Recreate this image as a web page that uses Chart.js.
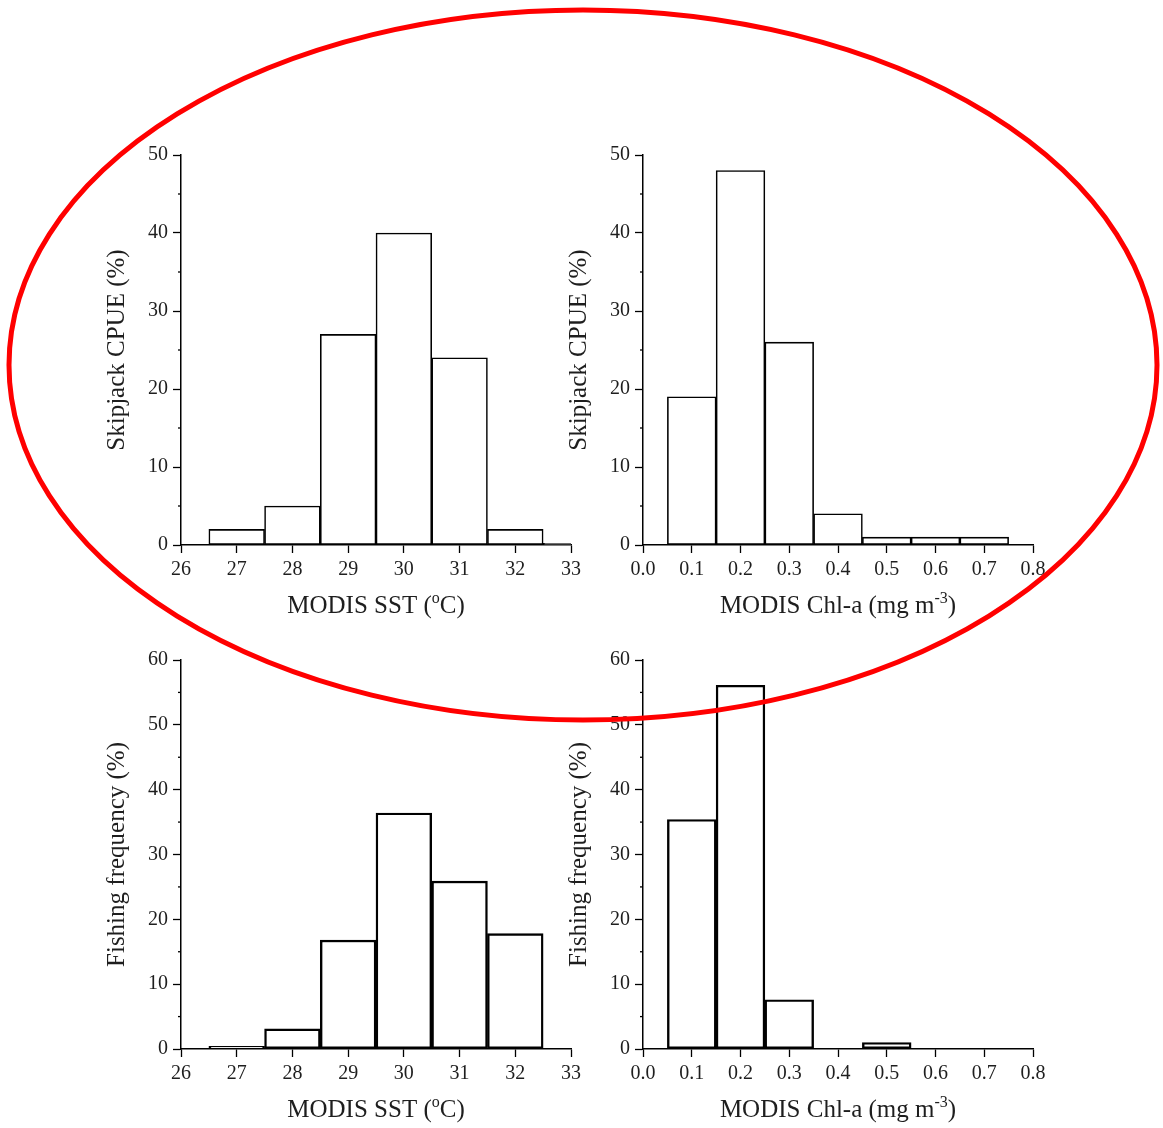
<!DOCTYPE html>
<html>
<head>
<meta charset="utf-8">
<script src="https://cdn.jsdelivr.net/npm/chart.js@4/dist/chart.umd.min.js"></script>
<style>
  html, body { margin:0; padding:0; background:#fff; }
  body { width:1163px; height:1128px; position:relative; overflow:hidden; }
  .pane { position:absolute; }
  #overlay { position:absolute; left:0; top:0; pointer-events:none; z-index:10; }
</style>
</head>
<body>
<div class="pane" id="p1"><canvas id="c1"></canvas></div>
<div class="pane" id="p2"><canvas id="c2"></canvas></div>
<div class="pane" id="p3"><canvas id="c3"></canvas></div>
<div class="pane" id="p4"><canvas id="c4"></canvas></div>
<canvas id="overlay" width="1163" height="1128"></canvas>
<script>
// ---- data ----
const sstBins      = [27, 28, 29, 30, 31, 32, 33];
const sstCpue      = [2, 5, 27, 40, 24, 2, 0.2];
const chlBins      = [0.1, 0.2, 0.3, 0.4, 0.5, 0.6, 0.7];
const chlCpue      = [19, 48, 26, 4, 1, 1, 1];
const sstFreqBins  = [27, 28, 29, 30, 31, 32];
const sstFreq      = [0.4, 3.1, 16.8, 36.4, 25.9, 17.8];
const chlFreqBins  = [0.1, 0.2, 0.3, 0.4, 0.5];
const chlFreq      = [35.4, 56.1, 7.6, null, 1.0];

const sstTicks = [26, 27, 28, 29, 30, 31, 32, 33];
const chlTicks = [0.0, 0.1, 0.2, 0.3, 0.4, 0.5, 0.6, 0.7, 0.8];

const yTitleCpue = 'Skipjack CPUE (%)';
const yTitleFreq = 'Fishing frequency (%)';
const xTitleSst = [{t:'MODIS SST ('}, {t:'o', sup:true}, {t:'C)'}];
const xTitleChl = [{t:'MODIS Chl-a (mg m'}, {t:'-3', sup:true}, {t:')'}];

const FONT = '"Liberation Serif", "Times New Roman", serif';
const TXT = '#1e1e1e';

const titlePlugin = {
  id: 'customTitles',
  afterDraw(chart) {
    const o = chart.options.plugins.customTitles;
    const a = chart.chartArea;
    const ctx = chart.ctx;
    ctx.save();
    ctx.fillStyle = TXT;
    // y title
    ctx.translate(a.left - 64, (a.top + a.bottom) / 2);
    ctx.rotate(-Math.PI / 2);
    ctx.font = '25px ' + FONT;
    ctx.textAlign = 'center';
    ctx.textBaseline = 'middle';
    ctx.fillText(o.y, 0, 0);
    ctx.restore();
    // x title with superscript
    ctx.save();
    ctx.fillStyle = TXT;
    ctx.textBaseline = 'alphabetic';
    ctx.textAlign = 'left';
    const big = '25px ' + FONT, small = '16px ' + FONT;
    let w = 0;
    o.x.forEach(s => { ctx.font = s.sup ? small : big; w += ctx.measureText(s.t).width; });
    let x = (a.left + a.right) / 2 - w / 2;
    const y = a.bottom + 68;
    o.x.forEach(s => {
      ctx.font = s.sup ? small : big;
      ctx.fillText(s.t, x, s.sup ? y - 10 : y);
      x += ctx.measureText(s.t).width;
    });
    ctx.restore();
    // minor y ticks
    const ys = chart.scales.y;
    ctx.save();
    ctx.strokeStyle = '#000';
    ctx.lineWidth = 1.3;
    for (let v = ys.min + o.minor; v < ys.max; v += o.minor * 2) {
      const py = ys.getPixelForValue(v);
      ctx.beginPath();
      ctx.moveTo(a.left - 3, py);
      ctx.lineTo(a.left, py);
      ctx.stroke();
    }
    ctx.restore();
  }
};

function makeChart(id, pane, areaLeft, areaTop, areaH, bins, vals, xTicks, xDec, yMax, yTitle, xTitle, bw) {
  const padTop = 30, padRight = 25, yW = 181, xH = 95;
  const pts = [];
  bins.forEach((b, i) => { if (vals[i] !== null) pts.push({x: b, y: vals[i]}); });
  return new Chart(document.getElementById(id), {
    type: 'bar',
    data: { datasets: [{
      data: pts,
      backgroundColor: '#ffffff',
      borderColor: '#000000',
      borderWidth: bw,
      borderSkipped: false,
      barPercentage: 1.0,
      categoryPercentage: 1.0,
      clip: 0
    }]},
    plugins: [titlePlugin],
    options: {
      responsive: false,
      maintainAspectRatio: false,
      animation: false,
      devicePixelRatio: 1,
      layout: { padding: { top: padTop, right: padRight, left: 0, bottom: 0 } },
      plugins: {
        legend: { display: false },
        tooltip: { enabled: false },
        customTitles: { x: xTitle, y: yTitle, minor: 5 }
      },
      scales: {
        x: {
          type: 'linear',
          min: xTicks[0], max: xTicks[xTicks.length - 1],
          offset: false,
          afterFit(s) { s.height = xH; },
          afterBuildTicks(s) { s.ticks = xTicks.map(v => ({value: v})); },
          grid: { display: true, offset: false, drawOnChartArea: false, drawTicks: true, tickLength: 8, tickColor: '#000', tickWidth: 1.3 },
          border: { display: true, color: '#000', width: 1.5 },
          ticks: {
            color: TXT, font: { family: FONT, size: 20 }, padding: 5,
            maxRotation: 0, autoSkip: false,
            callback: v => Number(v).toFixed(xDec)
          }
        },
        y: {
          min: 0, max: yMax,
          afterFit(s) { s.width = yW; },
          grid: { display: true, drawOnChartArea: false, drawTicks: true, tickLength: 8, tickColor: '#000', tickWidth: 1.3 },
          border: { display: true, color: '#000', width: 1.5 },
          ticks: { stepSize: 10, color: TXT, font: { family: FONT, size: 20 }, padding: 5 }
        }
      }
    }
  });
}

function build(id, pane, ...args) {
  const padTop = 30, padRight = 25, yW = 181, xH = 95;
  const p = document.getElementById(pane);
  const c = document.getElementById(id);
  const areaLeft = args[0], areaTop = args[1], areaH = args[2];
  const W = yW + 390 + padRight, H = padTop + areaH + xH;
  p.style.left = (areaLeft - yW) + 'px';
  p.style.top = (areaTop - padTop) + 'px';
  p.style.width = W + 'px';
  p.style.height = H + 'px';
  c.width = W; c.height = H;
  c.style.width = W + 'px'; c.style.height = H + 'px';
  return makeChart(id, pane, ...args);
}

build('c1', 'p1', 181, 155, 390, sstBins, sstCpue, sstTicks, 0, 50, yTitleCpue, xTitleSst, 1.6);
build('c2', 'p2', 643, 155, 390, chlBins, chlCpue, chlTicks, 1, 50, yTitleCpue, xTitleChl, 1.6);
build('c3', 'p3', 181, 660, 389, sstFreqBins, sstFreq, sstTicks, 0, 60, yTitleFreq, xTitleSst, 2.4);
build('c4', 'p4', 643, 660, 389, chlFreqBins, chlFreq, chlTicks, 1, 60, yTitleFreq, xTitleChl, 2.4);

// red highlight ellipse annotation
const oc = document.getElementById('overlay').getContext('2d');
oc.strokeStyle = '#ff0000';
oc.lineWidth = 5;
oc.beginPath();
oc.ellipse(583, 365, 574, 355, 0, 0, Math.PI * 2);
oc.stroke();
</script>
</body>
</html>
